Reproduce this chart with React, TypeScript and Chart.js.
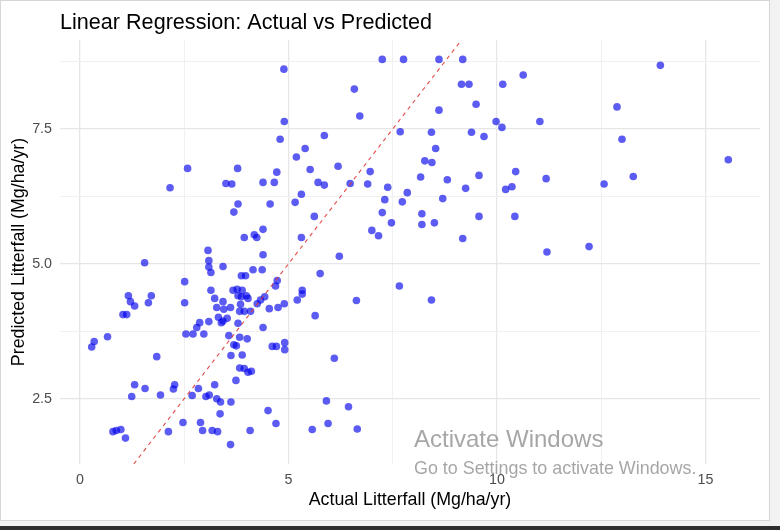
import React, { useEffect, useRef } from "react";
import { Chart, registerables } from "chart.js";

Chart.register(...registerables);

// ---- data ----
const actual = [
  1.55, 3.07, 3.09, 3.09, 3.14, 3.43, 2.51, 1.16, 1.71, 1.21,
  1.31, 1.64, 2.51, 3.14, 3.23, 3.43, 3.28, 3.45, 3.61, 1.03,
  1.12, 3.09, 2.87, 2.80, 3.32, 3.43, 3.39, 3.53, 2.54, 2.71,
  2.97, 3.57, 0.66, 0.34, 0.28, 1.84, 3.62, 1.31, 1.56, 1.24,
  1.93, 2.27, 2.24, 2.84, 2.69, 3.23, 3.02, 3.10, 3.28, 3.37,
  3.62, 3.36, 2.47, 2.89, 2.94, 3.17, 3.30, 2.12, 0.79, 0.87,
  0.98, 1.09, 3.61, 4.39, 6.22, 4.15, 4.37, 3.87, 3.97, 5.76,
  7.66, 4.73, 4.69, 3.67, 3.77, 3.89, 3.99, 4.03, 3.79, 3.87,
  4.43, 4.33, 4.25, 5.33, 5.33, 5.21, 6.63, 4.90, 4.75, 4.54,
  3.85, 3.83, 3.94, 4.09, 5.64, 3.79, 4.39, 3.83, 4.01, 3.69,
  3.75, 4.61, 4.71, 4.91, 4.91, 3.89, 6.10, 3.83, 3.94, 4.03,
  4.11, 3.74, 5.91, 6.44, 4.51, 4.70, 5.95, 4.08, 5.57, 6.65,
  4.80, 5.86, 5.40, 5.19, 2.58, 3.78, 5.52, 4.72, 2.16, 3.50,
  3.64, 4.39, 4.66, 5.71, 5.86, 5.31, 5.16, 3.79, 4.56, 3.69,
  5.62, 4.39, 3.94, 4.18, 4.24, 5.31, 4.89, 7.25, 6.58, 4.90,
  6.71, 7.68, 8.43, 9.39, 9.69, 8.53, 8.27, 8.44, 6.19, 6.96,
  8.17, 8.81, 9.57, 6.48, 6.90, 7.38, 7.85, 9.25, 7.31, 7.73,
  8.70, 7.25, 8.20, 7.47, 8.20, 8.50, 9.57, 7.00, 7.16, 9.18,
  7.76, 8.61, 9.18, 10.63, 9.15, 9.33, 10.14, 9.50, 8.61, 9.98,
  10.12, 11.03, 13.00, 10.45, 11.18, 10.21, 10.36, 12.57, 13.27, 10.43,
  11.20, 12.21, 13.92, 12.88, 8.43, 15.55,
];
const predicted = [
  5.02, 5.25, 5.06, 4.94, 4.84, 4.95, 4.67, 4.41, 4.41, 4.30,
  4.22, 4.28, 4.28, 4.51, 4.36, 4.30, 4.19, 4.16, 4.19, 4.06,
  4.06, 3.93, 3.91, 3.82, 4.01, 3.94, 3.91, 3.99, 3.70, 3.70,
  3.70, 3.67, 3.65, 3.56, 3.46, 3.28, 3.30, 2.76, 2.69, 2.54,
  2.57, 2.76, 2.68, 2.69, 2.56, 2.76, 2.54, 2.57, 2.50, 2.44,
  2.44, 2.22, 2.06, 2.06, 1.91, 1.91, 1.89, 1.89, 1.89, 1.91,
  1.93, 1.77, 1.65, 5.17, 5.14, 4.89, 4.89, 4.78, 4.78, 4.82,
  4.59, 4.69, 4.59, 4.51, 4.53, 4.51, 4.41, 4.36, 4.41, 4.39,
  4.39, 4.33, 4.26, 4.51, 4.44, 4.33, 4.32, 4.26, 4.19, 4.17,
  4.25, 4.12, 4.12, 4.12, 4.04, 3.90, 3.82, 3.64, 3.61, 3.50,
  3.48, 3.47, 3.47, 3.54, 3.41, 3.31, 3.25, 3.07, 3.06, 2.99,
  3.01, 2.84, 2.46, 2.35, 2.28, 2.04, 2.04, 1.91, 1.93, 1.94,
  7.31, 7.38, 7.14, 6.98, 6.77, 6.77, 6.75, 6.70, 6.41, 6.49,
  6.48, 6.51, 6.51, 6.51, 6.46, 6.29, 6.14, 6.11, 6.11, 5.96,
  5.88, 5.64, 5.49, 5.54, 5.49, 5.49, 8.61, 8.79, 8.24, 7.64,
  7.74, 7.45, 7.44, 7.44, 7.36, 7.14, 6.91, 6.88, 6.81, 6.71,
  6.61, 6.56, 6.64, 6.49, 6.48, 6.42, 6.32, 6.40, 6.19, 6.15,
  6.21, 5.95, 5.93, 5.76, 5.73, 5.76, 5.88, 5.62, 5.52, 5.47,
  8.79, 8.79, 8.79, 8.50, 8.33, 8.33, 8.33, 7.96, 7.85, 7.64,
  7.53, 7.64, 7.31, 6.71, 6.58, 6.38, 6.43, 6.48, 6.62, 5.88,
  5.22, 5.32, 8.68, 7.91, 4.33, 6.93,
];

const xTicks = [0, 5, 10, 15];
const xTickLabels = ["0", "5", "10", "15"];
const xMinorTicks = [2.5, 7.5, 12.5];
const yTicks = [2.5, 5, 7.5];
const yTickLabels = ["2.5", "5.0", "7.5"];
const yMinorTicks = [3.75, 6.25, 8.75];
const xLimits = [-0.48, 16.31];
const yLimits = [1.29, 9.15];

const titleText = "Linear Regression: Actual vs Predicted";
const xTitle = "Actual Litterfall (Mg/ha/yr)";
const yTitle = "Predicted Litterfall (Mg/ha/yr)";
const watermarkLines = ["Activate Windows", "Go to Settings to activate Windows."];

const FONT = '"Liberation Sans", Arial, Helvetica, sans-serif';
const MAJOR_GRID = "#e6e6e6";
const MINOR_GRID = "#f0f0f0";

export default function App() {
  const canvasRef = useRef<HTMLCanvasElement | null>(null);

  useEffect(() => {
    const canvas = canvasRef.current;
    if (!canvas) return;
    Chart.defaults.font.family = FONT;

    const overlay = {
      id: "overlay",
      afterDraw(chart: any) {
        const { ctx, chartArea } = chart;
        ctx.save();
        ctx.textAlign = "left";
        ctx.textBaseline = "alphabetic";
        ctx.fillStyle = "#000000";
        ctx.font = `21.6px ${FONT}`;
        ctx.fillText(titleText, chartArea.left, 28.5);
        ctx.fillStyle = "rgba(150,150,150,0.85)";
        ctx.font = `24px ${FONT}`;
        ctx.fillText(watermarkLines[0], 414, 447);
        ctx.font = `17.9px ${FONT}`;
        ctx.fillText(watermarkLines[1], 414, 474);
        ctx.restore();
      },
    };

    const points = actual.map((x, i) => ({ x, y: predicted[i] }));

    const chart = new Chart(canvas, {
      type: "scatter",
      data: {
        datasets: [
          {
            type: "line",
            data: [
              { x: yLimits[0], y: yLimits[0] },
              { x: yLimits[1], y: yLimits[1] },
            ],
            borderColor: "rgba(225,55,55,0.9)",
            borderWidth: 1.1,
            borderDash: [4, 4],
            pointRadius: 0,
            fill: false,
          } as any,
          {
            data: points,
            backgroundColor: "rgba(0,0,235,0.64)",
            borderWidth: 0,
            pointRadius: 3.8,
            pointHoverRadius: 3.8,
          },
        ],
      },
      options: {
        animation: false,
        responsive: false,
        events: [],
        layout: { padding: { left: 0, right: 20, top: 40, bottom: 0 } },
        plugins: {
          legend: { display: false },
          tooltip: { enabled: false },
        },
        scales: {
          x: {
            type: "linear",
            min: xLimits[0],
            max: xLimits[1],
            afterBuildTicks: (s: any) => {
              s.ticks = [...xTicks, ...xMinorTicks]
                .sort((a, b) => a - b)
                .map((v) => ({ value: v }));
            },
            afterFit: (s: any) => {
              s.height = 66;
            },
            ticks: {
              autoSkip: false,
              maxRotation: 0,
              padding: 7,
              color: "#4d4d4d",
              font: { size: 14.3 },
              callback: (v: any) => {
                const i = xTicks.indexOf(Number(v));
                return i >= 0 ? xTickLabels[i] : "";
              },
            },
            grid: {
              drawTicks: false,
              color: (c: any) => (xMinorTicks.includes(c.tick?.value) ? MINOR_GRID : MAJOR_GRID),
              lineWidth: (c: any) => (xMinorTicks.includes(c.tick?.value) ? 1 : 1.3),
            },
            border: { display: false },
            title: {
              display: true,
              text: xTitle,
              color: "#000000",
              font: { size: 17.8 },
              padding: { top: 0, bottom: 19 },
            },
          },
          y: {
            type: "linear",
            min: yLimits[0],
            max: yLimits[1],
            afterBuildTicks: (s: any) => {
              s.ticks = [...yTicks, ...yMinorTicks]
                .sort((a, b) => a - b)
                .map((v) => ({ value: v }));
            },
            afterFit: (s: any) => {
              s.width = 60;
            },
            ticks: {
              autoSkip: false,
              padding: 8,
              color: "#4d4d4d",
              font: { size: 14.3 },
              callback: (v: any) => {
                const i = yTicks.indexOf(Number(v));
                return i >= 0 ? yTickLabels[i] : "";
              },
            },
            grid: {
              drawTicks: false,
              color: (c: any) => (yMinorTicks.includes(c.tick?.value) ? MINOR_GRID : MAJOR_GRID),
              lineWidth: (c: any) => (yMinorTicks.includes(c.tick?.value) ? 1 : 1.3),
            },
            border: { display: false },
            title: {
              display: true,
              text: yTitle,
              color: "#000000",
              font: { size: 17.8 },
              padding: { top: 8, bottom: 0 },
            },
          },
        },
      },
      plugins: [overlay],
    });

    return () => {
      chart.destroy();
    };
  }, []);

  return (
    <div
      style={{
        position: "fixed",
        left: 0,
        top: 0,
        width: 780,
        height: 530,
        background: "#f2f2f2",
        overflow: "hidden",
      }}
    >
      <div
        style={{
          position: "absolute",
          left: 0,
          top: 0,
          width: 768,
          height: 519,
          background: "#ffffff",
          border: "1px solid #d6d6d6",
        }}
      />
      <div
        style={{
          position: "absolute",
          left: 0,
          top: 526,
          width: 780,
          height: 4,
          background: "#2e2e2e",
        }}
      />
      <canvas
        ref={canvasRef}
        width={780}
        height={530}
        style={{ position: "absolute", left: 0, top: 0, width: 780, height: 530 }}
      />
    </div>
  );
}
